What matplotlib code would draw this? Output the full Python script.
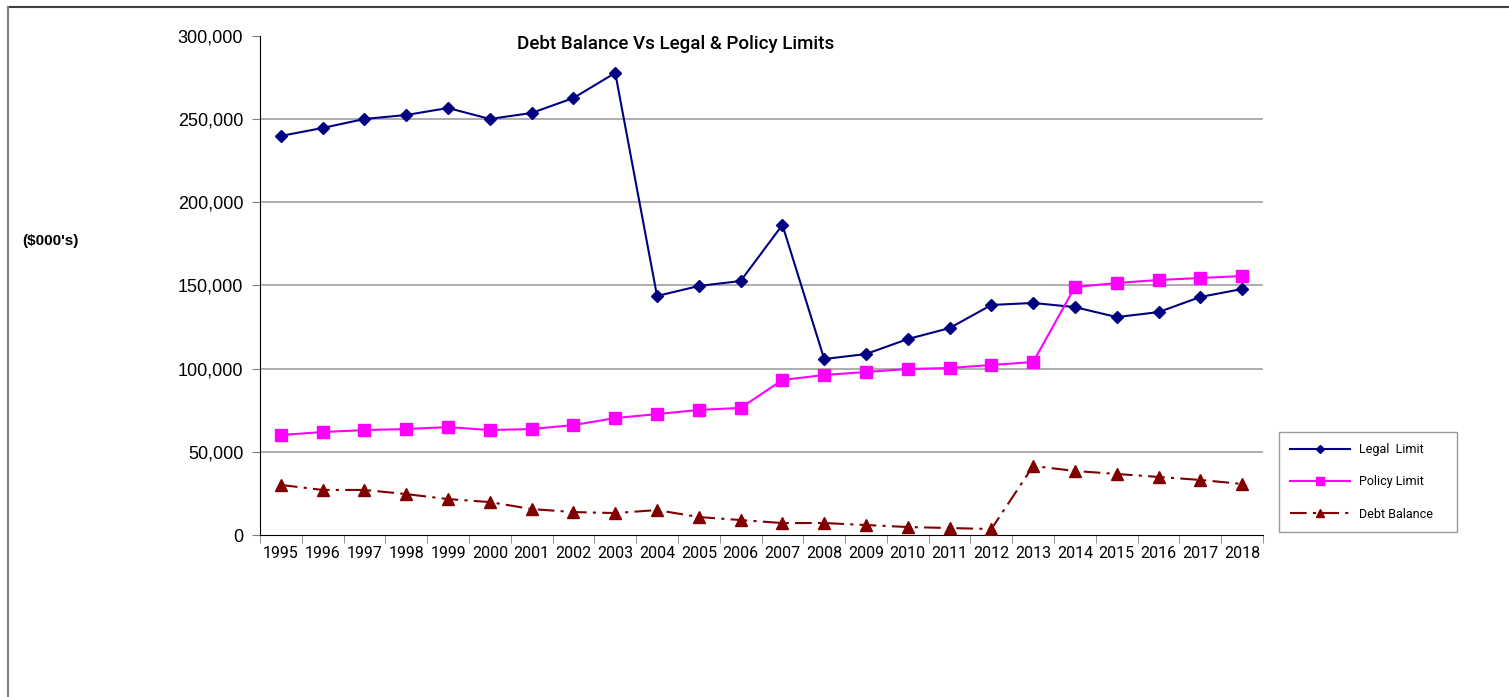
import matplotlib.pyplot as plt
import numpy as np
from matplotlib.lines import Line2D
from matplotlib.ticker import FuncFormatter

years = [str(y) for y in range(1995, 2019)]

legal_limit = [239900, 244700, 250100, 252500, 256700, 250100, 253700, 262700,
               277800, 143700, 149700, 152700, 186400, 105800, 108800, 117800,
               124400, 138300, 139500, 137000, 131000, 134000, 143100, 147900]

policy_limit = [60100, 61900, 63100, 63700, 64900, 63100, 63700, 66100,
                70300, 72700, 75200, 76400, 93200, 96200, 98000, 99800,
                100400, 102200, 104000, 149100, 151500, 153300, 154500, 155700]

debt_balance = [30100, 27100, 27100, 24600, 21600, 19800, 15600, 13800,
                13200, 15000, 10800, 9000, 7200, 7200, 6000, 4800,
                4200, 3600, 41500, 38500, 36700, 34900, 33100, 30700]

condensed = ['Roboto', 'DejaVu Sans']
arial = ['Liberation Sans', 'DejaVu Sans']

fig = plt.figure(figsize=(15.09, 6.97), dpi=100)
ax = fig.add_axes([0.1723, 0.2324, 0.6647, 0.716])

x = np.arange(len(years))
ax.plot(x, legal_limit, color='#000080', marker='D', markersize=6.5, lw=1.5,
        label='Legal  Limit', zorder=3)
ax.plot(x, policy_limit, color='#FF00FF', marker='s', markersize=8, lw=1.5,
        label='Policy Limit', zorder=3)
ax.plot(x, debt_balance, color='#800000', marker='^', markersize=8, lw=1.5,
        linestyle=(0, (8, 3, 1.5, 3)), label='Debt Balance', zorder=3)

ax.set_xlim(-0.5, len(years) - 0.5)
ax.set_ylim(0, 300000)
ax.set_yticks(np.arange(0, 300001, 50000))
ax.yaxis.set_major_formatter(FuncFormatter(lambda v, p: f'{int(v):,}'))
for v in range(50000, 300000, 50000):
    ax.axhline(v, color='#a0a0a0', lw=1.2, zorder=1)

ax.set_xticks(x)
ax.set_xticklabels(years, family=condensed, fontsize=11.5)
ax.set_xticks(np.arange(-0.5, len(years)), minor=True)
ax.tick_params(axis='x', which='major', length=0, pad=8)
ax.tick_params(axis='x', which='minor', length=6, color='#808080')
ax.tick_params(axis='y', length=6, color='#808080', labelsize=13, pad=6)
for lbl in ax.get_yticklabels():
    lbl.set_family(arial)

ax.spines['top'].set_visible(False)
ax.spines['right'].set_visible(False)
ax.spines['left'].set_color('black')
ax.spines['bottom'].set_color('black')

fig.text(0.448, 0.937, 'Debt Balance Vs Legal & Policy Limits', ha='center',
         va='center', fontsize=13.5, family=condensed, fontweight='medium')
fig.text(0.0146, 0.654, "($000's)", ha='left', va='center', fontsize=11,
         family=arial, fontweight='bold')

leg = fig.legend(loc='lower left', bbox_to_anchor=(0.8476, 0.2367, 0.118, 0.1406),
                 mode='expand', frameon=True, fancybox=False, edgecolor='#808080',
                 prop={'family': condensed, 'size': 9}, handlelength=4.8,
                 labelspacing=1.55, borderpad=0.9, markerscale=0.7,
                 borderaxespad=0, handletextpad=0.7)
leg.get_frame().set_linewidth(1.0)

# outer frame lines at top and left
fig.add_artist(Line2D([0.0053, 1.0], [0.99, 0.99], color='#404040', lw=1.5))
fig.add_artist(Line2D([0.0053, 0.0053], [0.0, 0.99], color='#808080', lw=1.5))

fig.savefig('out.png', dpi=100)
